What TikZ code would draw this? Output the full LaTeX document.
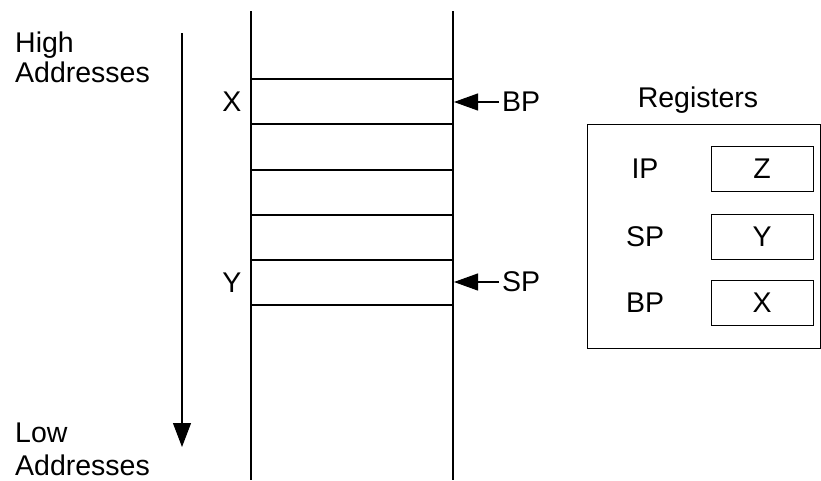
\documentclass[tikz,border=0pt]{standalone}
\usepackage{fontspec}
\setmainfont{Liberation Sans}
\usetikzlibrary{arrows.meta}
\begin{document}
\begin{tikzpicture}[x=1pt,y=-1pt,
  lbl/.style={font=\fontsize{28.5}{34}\selectfont, inner sep=0pt, anchor=base west},
  ln/.style={line width=1.1pt, draw=black},
  tip/.style={-{Triangle[length=24pt,width=17pt]}},
  reg/.style={draw=black, line width=0.9pt, minimum width=102pt, minimum height=45pt, inner sep=0pt, font=\fontsize{28.5}{34}\selectfont}]
\useasboundingbox (0,0) rectangle (821,480);
% left labels
\node[lbl] (high) at (15,52) {High};
\node[lbl] (addr1) at (15,82) {Addresses};
\node[lbl] (low) at (15,442) {Low};
\node[lbl] (addr2) at (15,475) {Addresses};
% direction arrow
\coordinate (dtop) at (182,33);
\coordinate (dbot) at (182,447);
\draw[ln, -{Triangle[length=24pt,width=18pt]}] (dtop) -- (dbot);
% stack
\coordinate (sl1) at (251,11);
\coordinate (sl2) at (251,480);
\coordinate (sr1) at (453,11);
\coordinate (sr2) at (453,480);
\draw[ln] (sl1) -- (sl2);
\draw[ln] (sr1) -- (sr2);
\foreach \yy in {79,124,170,215,260,305}{
  \draw[ln] (251,\yy) -- (453,\yy);
}
\node[lbl, anchor=base] (sx) at (232,111) {X};
\node[lbl, anchor=base] (sy) at (232,292) {Y};
% pointers
\node[lbl] (bp) at (502,111) {BP};
\node[lbl] (sp) at (502,291) {SP};
\coordinate (bpt) at (454,102);
\coordinate (spt) at (454,282);
\draw[ln, tip] (bp.west |- bpt) ++(-3,0) -- (bpt);
\draw[ln, tip] (sp.west |- spt) ++(-3,0) -- (spt);
% registers
\node[lbl, anchor=base] (regt) at (698,107) {Registers};
\draw[line width=0.9pt] (587,124) rectangle (820.5,348);
\node[lbl, anchor=base] (lip) at (645,178) {IP};
\node[lbl, anchor=base] (lsp) at (645,246) {SP};
\node[lbl, anchor=base] (lbp) at (645,312) {BP};
\node[reg] (rz) at (762,169) {Z};
\node[reg] (ry) at (762,237) {Y};
\node[reg] (rx) at (762,303) {X};
\end{tikzpicture}
\end{document}
